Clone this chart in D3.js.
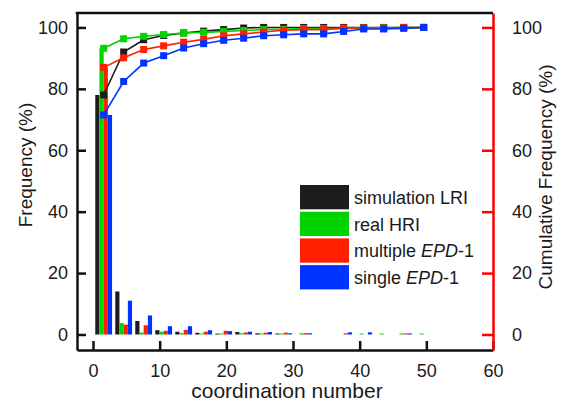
<!DOCTYPE html>
<html>
<head>
<meta charset="utf-8">
<script src="https://cdn.jsdelivr.net/npm/d3@7"></script>
<style>
    body { margin: 0; background: #fff; }
    svg { display: block; font-family: 'Liberation Sans', Arial, sans-serif; }
    .axis text { font-size: 18px; fill: #1a1a1a; }
</style>
</head>
<body>
<svg id="chart" width="570" height="408"></svg>
<script>
// bin centres (coordination number)
const coord = [1.6, 4.6, 7.6, 10.6, 13.6, 16.6, 19.6, 22.6, 25.6, 28.6, 31.6, 34.6, 37.6, 40.6, 43.6, 46.6, 49.6]

const seriesNames = ['simulation LRI', 'real HRI', 'multiple EPD-1', 'single EPD-1']
const seriesColors = ['#1c1c1c', '#00d400', '#ff2000', '#0033ff']

// frequency (%) per bin
const freqLRI = [78, 14, 4.4, 1.4, 0.9, 0.55, 0.3, 0.8, 0.4, 0.3, 0, 0, 0, 0, 0, 0, 0]
const freqHRI = [93.2, 3.7, 0.6, 0.9, 0.45, 0.3, 0.3, 0.4, 0.3, 0.3, 0.4, 0, 0, 0.3, 0.3, 0.35, 0.3]
const freqMulti = [87, 3.2, 3.0, 1.2, 1.5, 0.9, 1.2, 0.65, 0.6, 0.6, 0.45, 0, 0.4, 0, 0, 0.35, 0]
const freqSingle = [71.5, 11, 6.2, 2.7, 2.7, 1.4, 1.1, 0.9, 0.8, 0.4, 0.4, 0, 0.7, 0.7, 0, 0.35, 0]

// cumulative frequency (%) per bin
const cumLRI = [78, 92, 96, 97.4, 98.2, 98.8, 99.3, 99.8, 100, 100, 100, 100, 100, 100, 100, 100, 100]
const cumHRI = [93.2, 96.3, 97.1, 97.7, 98.2, 98.4, 98.7, 99, 99.3, 99.4, 99.6, 99.6, 99.6, 99.8, 99.9, 100, 100]
const cumMulti = [87, 90.1, 92.8, 94, 95.2, 96.1, 97.3, 97.9, 98.5, 99.1, 99.3, 99.3, 99.8, 99.8, 99.8, 100, 100]
const cumSingle = [71.5, 82.4, 88.4, 90.8, 93.3, 94.7, 95.8, 96.5, 97.3, 97.6, 97.9, 97.9, 98.7, 99.5, 99.5, 99.7, 100]

const xTicks = [0, 10, 20, 30, 40, 50, 60]
const yTicks = [0, 20, 40, 60, 80, 100]

const freqs = [freqLRI, freqHRI, freqMulti, freqSingle]
const cums = [cumLRI, cumHRI, cumMulti, cumSingle]

const plot = { left: 77, right: 493, top: 13, bottom: 350 }

const svg = d3.select('#chart')

const x = d3.scaleLinear().domain([-2.4, 60]).range([plot.left, plot.right])
const y = d3.scaleLinear().domain([-5.05, 104.7]).range([plot.bottom, plot.top])
const yR = d3.scaleLinear().domain([-5.05, 104.7]).range([plot.bottom, plot.top])

const barW = 0.63

// bars
const bars = svg.append('g')
freqs.forEach((vals, s) => {
    bars.selectAll(null)
        .data(vals.map((v, i) => ({ x: coord[i], v: v })).filter(d => d.v > 0))
        .enter()
        .append('rect')
        .attr('x', d => x(d.x + (s - 2) * barW))
        .attr('width', x(barW) - x(0))
        .attr('y', d => y(d.v))
        .attr('height', d => y(0) - y(d.v))
        .attr('fill', seriesColors[s])
})

// cumulative lines
const line = d3.line()
    .x((d, i) => x(coord[i]))
    .y(d => yR(d))

cums.forEach((vals, s) => {
    const g = svg.append('g')
    g.append('path')
        .attr('d', line(vals))
        .attr('fill', 'none')
        .attr('stroke', seriesColors[s])
        .attr('stroke-width', 1.6)
    g.selectAll('rect')
        .data(vals)
        .enter()
        .append('rect')
        .attr('x', (d, i) => x(coord[i]) - 3.5)
        .attr('y', d => yR(d) - 3.5)
        .attr('width', 7)
        .attr('height', 7)
        .attr('fill', seriesColors[s])
})

// axes
const gx = svg.append('g')
    .attr('class', 'axis')
    .attr('transform', `translate(0,${plot.bottom})`)
    .call(d3.axisBottom(x).tickValues(xTicks).tickSize(-9).tickSizeOuter(0).tickPadding(14))

const gy = svg.append('g')
    .attr('class', 'axis')
    .attr('transform', `translate(${plot.left},0)`)
    .call(d3.axisLeft(y).tickValues(yTicks).tickSize(-9).tickSizeOuter(0).tickPadding(9))

const gr = svg.append('g')
    .attr('class', 'axis axis--right')
    .attr('transform', `translate(${plot.right},0)`)
    .call(d3.axisRight(yR).tickValues(yTicks).tickSize(-11).tickSizeOuter(0).tickPadding(19))

svg.selectAll('.axis path, .axis line')
    .attr('stroke', '#111')
    .attr('stroke-width', 2.5)
gr.selectAll('path, line').attr('stroke', '#ff0000')

// top frame
svg.append('line')
    .attr('x1', plot.left - 1.25).attr('x2', plot.right)
    .attr('y1', plot.top).attr('y2', plot.top)
    .attr('stroke', '#111')
    .attr('stroke-width', 2.5)

// axis titles
svg.append('text')
    .attr('x', (plot.left + plot.right) / 2 + 2)
    .attr('y', 398)
    .attr('text-anchor', 'middle')
    .attr('font-size', 21)
    .attr('fill', '#1a1a1a')
    .text('coordination number')

svg.append('text')
    .attr('transform', 'translate(32,165) rotate(-90)')
    .attr('text-anchor', 'middle')
    .attr('font-size', 19)
    .attr('fill', '#1a1a1a')
    .text('Frequency (%)')

svg.append('text')
    .attr('transform', 'translate(552,177) rotate(-90)')
    .attr('text-anchor', 'middle')
    .attr('font-size', 19)
    .attr('fill', '#1a1a1a')
    .text('Cumulative Frequency (%)')

// legend
const legend = svg.append('g').attr('transform', 'translate(300,185)')
seriesNames.forEach((name, i) => {
    const row = legend.append('g').attr('transform', `translate(0,${i * 26.7})`)
    row.append('rect')
        .attr('width', 49)
        .attr('height', 24.3)
        .attr('fill', seriesColors[i])
    const t = row.append('text')
        .attr('x', 54)
        .attr('y', 19)
        .attr('font-size', 18)
        .attr('fill', '#1a1a1a')
    const m = name.match(/^(.*?)(EPD)(-1)$/)
    if (m) {
        t.append('tspan').text(m[1])
        t.append('tspan').attr('font-style', 'italic').text(m[2])
        t.append('tspan').text(m[3])
    } else {
        t.text(name)
    }
})
</script>
</body>
</html>
